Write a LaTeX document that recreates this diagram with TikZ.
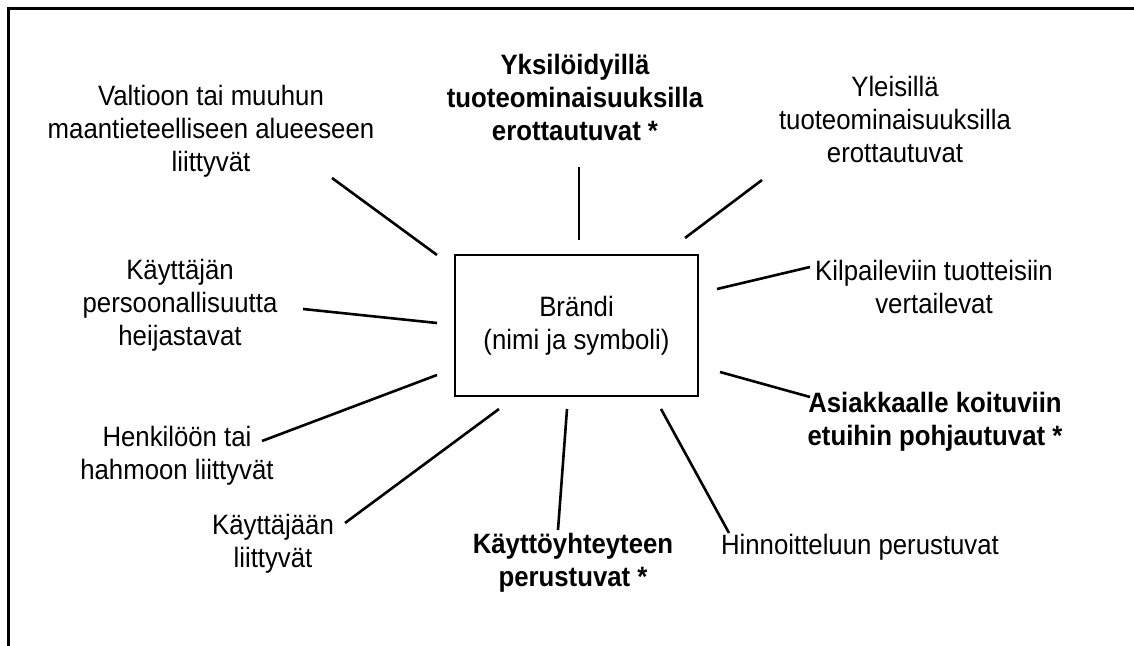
\documentclass[tikz,border=0pt]{standalone}
\usepackage{fontspec}
\setmainfont{Liberation Sans}[FakeStretch=0.92]
\usepackage{tikz}
\tikzset{
      lbl/.style={align=center, font=\fontsize{14}{16.5}\selectfont, inner sep=0pt},
      blbl/.style={lbl, font=\fontsize{14}{16.5}\selectfont\bfseries},
      spoke/.style={line width=1.3pt}
}

\begin{document}
\begin{tikzpicture}[x=0.5pt, y=-0.5pt]
                  % page and frame
                  \useasboundingbox (0, 0) rectangle (1134, 646);
                  \draw [line width=1.3pt] (8.5, 646) -- (8.5, 8.5) -- (1134, 8.5);
                  % the brand in the middle
                  \node (brand) [draw, line width=1.3pt, minimum width=121.5pt, minimum height=70.5pt, lbl]
                        at (576.5, 325.5) {Brändi\\(nimi ja symboli)};
                  % the kinds round it
                  \node (valtio) [lbl] at (211, 131) {Valtioon tai muuhun\\maantieteelliseen alueeseen\\liittyvät};
                  \node (yksil) [blbl] at (575, 97) {Yksilöidyillä\\tuoteominaisuuksilla\\erottautuvat *};
                  \node (yleis) [lbl] at (895, 119) {Yleisillä\\tuoteominaisuuksilla\\erottautuvat};
                  \node (kilp) [lbl] at (934, 287) {Kilpaileviin tuotteisiin\\vertailevat};
                  \node (asiak) [blbl] at (935, 422) {Asiakkaalle koituviin\\etuihin pohjautuvat *};
                  \node (hinta) [lbl] at (860, 547) {Hinnoitteluun perustuvat};
                  \node (kaytto) [blbl] at (573, 563) {Käyttöyhteyteen\\perustuvat *};
                  \node (kayttaja) [lbl] at (273, 544) {Käyttäjään\\liittyvät};
                  \node (henk) [lbl] at (177, 456) {Henkilöön tai\\hahmoon liittyvät};
                  \node (pers) [lbl] at (180, 305) {Käyttäjän\\persoonallisuutta\\heijastavat};
                  % spoke ends
                  \coordinate (valtio-a) at (332, 178);  \coordinate (valtio-b) at (437, 255);
                  \coordinate (yksil-a) at (579, 167);   \coordinate (yksil-b) at (579, 240);
                  \coordinate (yleis-a) at (762, 180);   \coordinate (yleis-b) at (685, 238);
                  \coordinate (kilp-a) at (810, 267);    \coordinate (kilp-b) at (717, 289);
                  \coordinate (asiak-a) at (810, 397);   \coordinate (asiak-b) at (720, 372);
                  \coordinate (hinta-a) at (729, 533);   \coordinate (hinta-b) at (661, 409);
                  \coordinate (kaytto-a) at (558, 530);  \coordinate (kaytto-b) at (567, 409);
                  \coordinate (kayttaja-a) at (345, 523); \coordinate (kayttaja-b) at (499, 409);
                  \coordinate (henk-a) at (262, 441);    \coordinate (henk-b) at (437, 375);
                  \coordinate (pers-a) at (303, 309);    \coordinate (pers-b) at (437, 323);
                  \foreach \k in {valtio, yksil, yleis, kilp, asiak, hinta, kaytto, kayttaja, henk, pers}
                        \draw [spoke] (\k-a) -- (\k-b);
\end{tikzpicture}
\end{document}
